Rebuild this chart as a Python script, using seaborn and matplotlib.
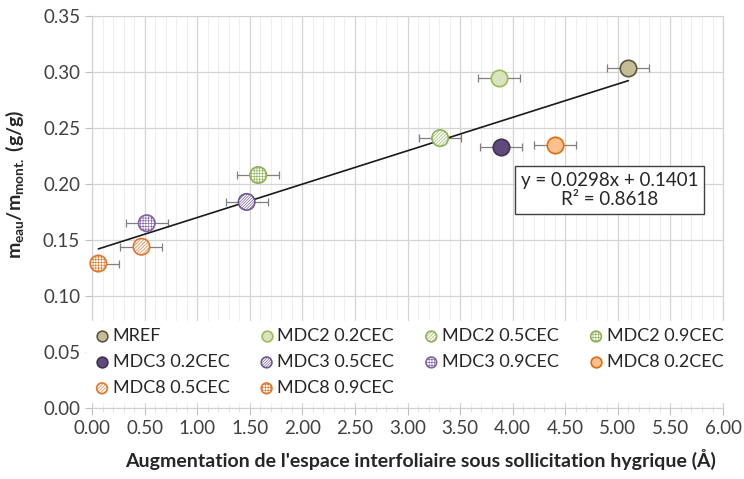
import numpy as np
import pandas as pd
import seaborn as sns
import matplotlib.pyplot as plt
from matplotlib.ticker import MultipleLocator, FormatStrFormatter

# Data
series = ['MREF', 'MDC2 0.2CEC', 'MDC2 0.5CEC', 'MDC2 0.9CEC',
          'MDC3 0.2CEC', 'MDC3 0.5CEC', 'MDC3 0.9CEC',
          'MDC8 0.2CEC', 'MDC8 0.5CEC', 'MDC8 0.9CEC']
x_vals = [5.10, 3.87, 3.31, 1.58, 3.89, 1.47, 0.52, 4.40, 0.47, 0.06]
y_vals = [0.304, 0.295, 0.241, 0.208, 0.233, 0.184, 0.165, 0.235, 0.144, 0.129]
x_err = [0.20, 0.20, 0.20, 0.20, 0.20, 0.20, 0.20, 0.20, 0.20, 0.20]
eq_text = 'y = 0.0298x + 0.1401\nR² = 0.8618'

# styles
face_cols = ['#C4BD97', '#D7E4BD', 'white', 'white',
             '#604A7B', 'white', 'white',
             '#FAC090', 'white', 'white']
edge_cols = ['#5E583C', '#9BBB59', '#8DB255', '#8DB255',
             '#403151', '#6E5790', '#8064A2',
             '#E46C0A', '#E0782A', '#E0782A']
hatches = [None, None, '/' * 10, '+' * 6, None, '/' * 12, '+' * 6, None, '/' * 10, '+' * 6]

df = pd.DataFrame({'serie': series, 'x': x_vals, 'y': y_vals, 'xerr': x_err})

sns.set_style('whitegrid')
plt.rcParams['font.family'] = ['Lato', 'DejaVu Sans']
plt.rcParams['hatch.linewidth'] = 0.45

fig = plt.figure(figsize=(7.44, 4.79), dpi=100)
ax = fig.add_axes([0.1237, 0.1482, 0.8481, 0.8184])

# error bars + trend line
ax.errorbar(df['x'], df['y'], xerr=df['xerr'], fmt='none', ecolor='#808080',
            elinewidth=0.9, capsize=3, capthick=0.9, zorder=3)
sns.regplot(data=df, x='x', y='y', scatter=False, ci=None, truncate=True,
            color='#1a1a1a', line_kws={'lw': 1.2, 'zorder': 3}, ax=ax)

for i, s in enumerate(series):
    sns.scatterplot(data=df[df.serie == s], x='x', y='y', ax=ax, s=140,
                    color=face_cols[i], edgecolor=edge_cols[i], linewidth=1.2,
                    hatch=hatches[i], label=s, zorder=4, clip_on=False)

ax.set_xlim(0, 6)
ax.set_ylim(0, 0.35)
ax.xaxis.set_major_locator(MultipleLocator(0.5))
ax.xaxis.set_minor_locator(MultipleLocator(0.1))
ax.yaxis.set_major_locator(MultipleLocator(0.05))
ax.xaxis.set_major_formatter(FormatStrFormatter('%.2f'))
ax.yaxis.set_major_formatter(FormatStrFormatter('%.2f'))
ax.grid(which='major', color='#D4D4D4', lw=0.9)
ax.grid(which='minor', axis='x', color='#EEEEEE', lw=0.8)
ax.tick_params(axis='both', which='major', labelsize=13.5, colors='#404040',
               length=5, color='#BFBFBF', bottom=True, left=True)
ax.tick_params(axis='x', which='minor', length=3, color='#D9D9D9', bottom=True)
for sp in ax.spines.values():
    sp.set_color('#D0D0D0')

ax.set_xlabel("Augmentation de l'espace interfoliaire sous sollicitation hygrique (Å)",
              fontsize=14, fontweight='bold', color='#262626')
ax.set_ylabel(r'$\mathregular{m_{eau}/m_{mont.}}$ (g/g)',
              fontsize=14, fontweight='bold', color='#262626')
ax.xaxis.set_label_coords(0.52, -0.105)
ax.yaxis.set_label_coords(-0.105, 0.57)

ax.text(0.82, 0.556, eq_text, transform=ax.transAxes, ha='center', va='center',
        multialignment='center', fontsize=13.5, color='#262626', zorder=6,
        bbox=dict(boxstyle='square,pad=0.3', fc='white', ec='#404040', lw=1))

# legend filled row by row like the original
handles, labels = ax.get_legend_handles_labels()
order = [0, 4, 8, 1, 5, 9, 2, 6, 3, 7]
leg = ax.legend([handles[k] for k in order], [labels[k] for k in order],
                ncol=4, loc='lower left', bbox_to_anchor=(-0.01, 0.012),
                frameon=True, facecolor='white', edgecolor='none', framealpha=1,
                fontsize=13, handlelength=1.0, handletextpad=0.1, columnspacing=1.55,
                markerscale=0.65, borderaxespad=0, labelspacing=0.55)
leg.set_zorder(5)
for h, k in zip(leg.legend_handles, order):
    h.set_edgecolor(edge_cols[k])
for t in leg.get_texts():
    t.set_color('#262626')

fig.savefig('out.png', dpi=100)
